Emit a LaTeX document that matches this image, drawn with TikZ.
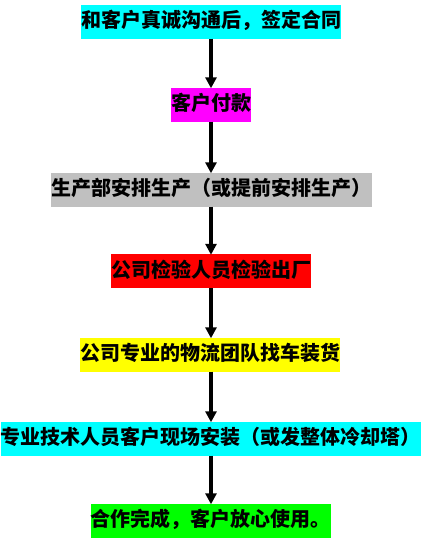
\documentclass[tikz,border=0pt]{standalone}
\usepackage{fontspec}
\newfontfamily\cjk{Noto Sans CJK SC}
\usetikzlibrary{arrows.meta}
\definecolor{cyanbox}{RGB}{0,255,255}
\definecolor{magbox}{RGB}{255,0,255}
\definecolor{graybox}{RGB}{192,192,192}
\definecolor{redbox}{RGB}{255,0,0}
\definecolor{yelbox}{RGB}{255,255,0}
\definecolor{grnbox}{RGB}{0,255,0}
\tikzset{
  stepbox/.style={inner xsep=0pt, inner ysep=0pt, minimum height=34pt, text height=15pt, text depth=3pt, font=\cjk\bfseries\fontsize{20pt}{21pt}\selectfont},
  flow/.style={line width=3.5pt, -{Triangle[width=11pt,length=11pt]}, shorten >=-1pt}
}
\begin{document}
\begin{tikzpicture}[x=1pt,y=1pt]
\useasboundingbox (0,0) rectangle (423,-541);
\node[stepbox, fill=cyanbox, minimum width=260pt] (n1) at (211,-21.5) {和客户真诚沟通后，签定合同};
\node[stepbox, fill=magbox, minimum width=80pt] (n2) at (211,-104.5) {客户付款};
\node[stepbox, fill=graybox, minimum width=321pt] (n3) at (211.5,-189.5) {生产部安排生产（或提前安排生产）};
\node[stepbox, fill=redbox, minimum width=200pt] (n4) at (211,-271) {公司检验人员检验出厂};
\node[stepbox, fill=yelbox, minimum width=259pt] (n5) at (210,-354.5) {公司专业的物流团队找车装货};
\node[stepbox, fill=cyanbox, minimum width=420pt] (n6) at (211,-438.5) {专业技术人员客户现场安装（或发整体冷却塔）};
\node[stepbox, fill=grnbox, minimum width=239pt] (n7) at (210.5,-520.5) {合作完成，客户放心使用。};
\draw[flow] (n1.south) -- (n1.south |- n2.north);
\draw[flow] (n2.south) -- (n2.south |- n3.north);
\draw[flow] (n2.south |- n3.south) -- (n2.south |- n4.north);
\draw[flow] (n4.south) -- (n4.south |- n5.north);
\draw[flow] (n4.south |- n5.south) -- (n4.south |- n6.north);
\draw[flow] (n6.south) -- (n6.south |- n7.north);
\end{tikzpicture}
\end{document}
